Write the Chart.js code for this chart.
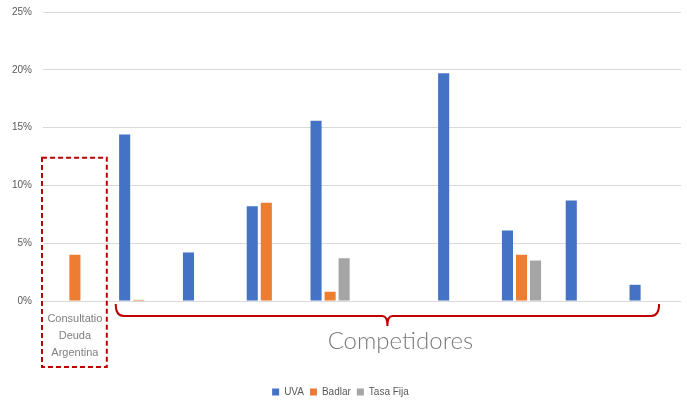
<!DOCTYPE html>
<html>
<head>
<meta charset="utf-8">
<script src="https://cdn.jsdelivr.net/npm/chart.js@4/dist/chart.umd.min.js"></script>
<style>
  html, body { margin: 0; padding: 0; background: #fff; }
  #wrap { width: 687px; height: 402px; }
</style>
</head>
<body>
<div id="wrap"><canvas id="fondos"></canvas></div>
<script>
const categorias = [
  ["Consultatio", "Deuda", "Argentina"],
  "", "", "", "", "", "", "", "", ""
];
const uva = [null, 14.4, 4.2, 8.2, 15.6, null, 19.7, 6.1, 8.7, 1.4];
const badlar = [4.0, 0.1, null, 8.5, 0.8, null, null, 4.0, null, null];
const tasaFija = [null, null, null, null, 3.7, null, null, 3.5, null, null];
const ticksY = [0, 5, 10, 15, 20, 25];
const textoCompetidores = "Competidores";

const rojo = "#C00000";

// recuadro punteado sobre el primer fondo y llave bajo los competidores
const anotaciones = {
  id: "anotaciones",
  afterDraw(chart) {
    const { ctx, chartArea, scales } = chart;
    const x = scales.x;
    const y = scales.y;
    const ancho = x.getPixelForValue(1) - x.getPixelForValue(0);

    ctx.save();
    ctx.strokeStyle = rojo;
    ctx.lineWidth = 2;

    // recuadro
    ctx.setLineDash([5, 3]);
    const izq = x.getPixelForValue(0) - ancho / 2 - 1;
    const der = x.getPixelForValue(0) + ancho / 2;
    const arriba = y.getPixelForValue(12.4);
    const abajo = chartArea.bottom + 66;
    ctx.strokeRect(izq, arriba, der - izq, abajo - arriba);

    // llave
    ctx.setLineDash([]);
    const bx1 = x.getPixelForValue(1) - 23;
    const bx2 = x.getPixelForValue(9) + 10;
    const by = chartArea.bottom + 15;
    const medio = (bx1 + bx2) / 2;
    ctx.beginPath();
    ctx.moveTo(bx1, chartArea.bottom + 3);
    ctx.quadraticCurveTo(bx1, by, bx1 + 8, by);
    ctx.lineTo(medio - 5, by);
    ctx.quadraticCurveTo(medio, by, medio, by + 10);
    ctx.quadraticCurveTo(medio, by, medio + 5, by);
    ctx.lineTo(bx2 - 8, by);
    ctx.quadraticCurveTo(bx2, by, bx2, chartArea.bottom + 3);
    ctx.stroke();

    ctx.fillStyle = "#7a7a7a";
    ctx.font = "300 24px Lato, 'Open Sans', sans-serif";
    ctx.textAlign = "center";
    ctx.textBaseline = "alphabetic";
    ctx.fillText(textoCompetidores, medio + 13, chartArea.bottom + 48);
    ctx.restore();
  }
};

new Chart(document.getElementById("fondos"), {
  type: "bar",
  data: {
    labels: categorias,
    datasets: [
      { label: "UVA", data: uva, backgroundColor: "#4472C4" },
      { label: "Badlar", data: badlar, backgroundColor: "#ED7D31" },
      { label: "Tasa Fija", data: tasaFija, backgroundColor: "#A5A5A5" },
    ],
  },
  options: {
    responsive: true,
    maintainAspectRatio: false,
    animation: false,
    categoryPercentage: 0.66,
    barPercentage: 0.79,
    layout: { padding: { top: 12, right: 6, bottom: -5, left: 0 } },
    plugins: {
      tooltip: { enabled: false },
      legend: {
        position: "bottom",
        labels: {
          boxWidth: 7,
          boxHeight: 7,
          padding: 6,
          color: "#595959",
          font: { family: "'Liberation Sans', Arial, sans-serif", size: 10 },
        },
      },
    },
    scales: {
      x: {
        grid: { display: false },
        border: { display: false },
        ticks: {
          color: "#7f7f7f",
          padding: 1,
          maxRotation: 0,
          autoSkip: false,
          font: { family: "'Liberation Sans', Arial, sans-serif", size: 11, lineHeight: 1.55 },
        },
        afterFit: (scale) => { scale.height = 80; },
      },
      y: {
        min: 0,
        max: 25,
        afterBuildTicks: (scale) => {
          scale.ticks = ticksY.map((v) => ({ value: v }));
        },
        grid: { color: "#d9d9d9", drawTicks: false },
        border: { display: false },
        ticks: {
          color: "#595959",
          padding: 11,
          font: { family: "'Liberation Sans', Arial, sans-serif", size: 10 },
          callback: (v) => v + "%",
        },
        afterFit: (scale) => {
          scale.width = 43;
          scale.paddingTop = 0;
          scale.paddingBottom = 0;
        },
      },
    },
  },
  plugins: [anotaciones],
});
</script>
</body>
</html>
